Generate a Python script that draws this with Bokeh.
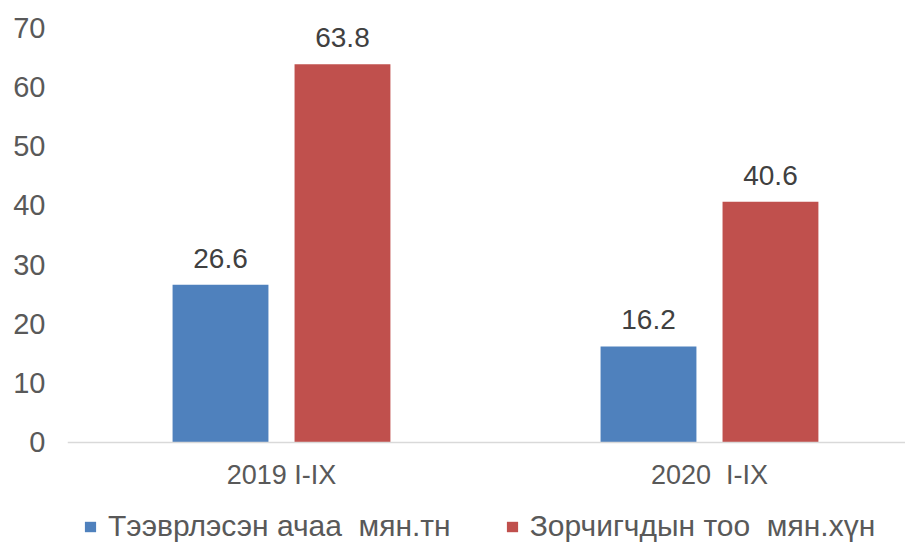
from bokeh.plotting import figure
from bokeh.models import ColumnDataSource, Range1d, FixedTicker, LabelSet, Legend, LegendItem, Span
from bokeh.core.properties import value
from bokeh.transform import dodge
from bokeh.embed import file_html
from bokeh.resources import INLINE

categories = ["2019 I-IX", "2020 \u00a0I-IX"]
cargo = [26.6, 16.2]          # Тээврлэсэн ачаа мян.тн
passengers = [63.8, 40.6]     # Зорчигчдын тоо мян.хүн
series_names = ["Тээврлэсэн ачаа  мян.тн", "Зорчигчдын тоо  мян.хүн"]
y_ticks = [0, 10, 20, 30, 40, 50, 60, 70]

BLUE = "#4F81BD"
RED = "#C0504D"
FONT = "Liberation Sans"

xpos = [i + 0.5 for i in range(len(categories))]
src = ColumnDataSource(dict(
    x=xpos, cat=categories, cargo=cargo, passengers=passengers,
    base=[0] * len(categories),
    cargo_lbl=[f"{v:.1f}" for v in cargo],
    pass_lbl=[f"{v:.1f}" for v in passengers],
))

# frame extends below zero so that category labels and legend sit inside it
p = figure(width=905, height=543, output_backend="svg", toolbar_location=None,
           x_range=Range1d(0, 1.958), y_range=Range1d(-17.04, 70),
           min_border_left=67, min_border_right=0, min_border_top=27, min_border_bottom=0)
p.outline_line_color = None
p.background_fill_color = "white"
p.border_fill_color = "white"
p.xgrid.visible = False
p.ygrid.visible = False
p.xaxis.visible = False

off = 0.1425
bw = 0.224
r1 = p.vbar(x=dodge("x", -off), top="cargo", width=bw, source=src, color=BLUE, line_color=None)
r2 = p.vbar(x=dodge("x", off), top="passengers", width=bw, source=src, color=RED, line_color=None)

# baseline at zero
p.add_layout(Span(location=0, dimension="width", line_color="#D9D9D9", line_width=1.5))

lbl_style = dict(text_font_size="28px", text_color="#404040", text_font=value(FONT),
                 text_align="center", text_baseline="alphabetic", y_offset=17, source=src)
p.add_layout(LabelSet(x=dodge("x", -off), y="cargo", text="cargo_lbl", **lbl_style))
p.add_layout(LabelSet(x=dodge("x", off), y="passengers", text="pass_lbl", **lbl_style))

# category labels under the baseline
p.add_layout(LabelSet(x="x", y="base", text="cat", source=src, y_offset=-33,
                      text_font_size="27px", text_color="#595959", text_font=value(FONT),
                      text_align="center", text_baseline="middle"))

# y axis
p.yaxis.ticker = FixedTicker(ticks=y_ticks)
p.yaxis.axis_line_color = None
p.yaxis.major_tick_line_color = None
p.yaxis.minor_tick_line_color = None
p.yaxis.major_tick_out = 0
p.yaxis.major_label_standoff = 22
p.yaxis.major_label_text_font_size = "29px"
p.yaxis.major_label_text_color = "#595959"
p.yaxis.major_label_text_font = FONT

legend = Legend(items=[LegendItem(label=series_names[0], renderers=[r1]),
                       LegendItem(label=series_names[1], renderers=[r2])],
                orientation="horizontal", location=(16, 0),
                border_line_color=None, background_fill_alpha=0,
                glyph_width=14, glyph_height=13, label_standoff=11, spacing=54,
                padding=0, margin=0,
                label_text_font_size="30px", label_text_color="#595959", label_text_font=FONT)
p.add_layout(legend, "center")

open("out.html", "w").write(file_html(p, INLINE))
